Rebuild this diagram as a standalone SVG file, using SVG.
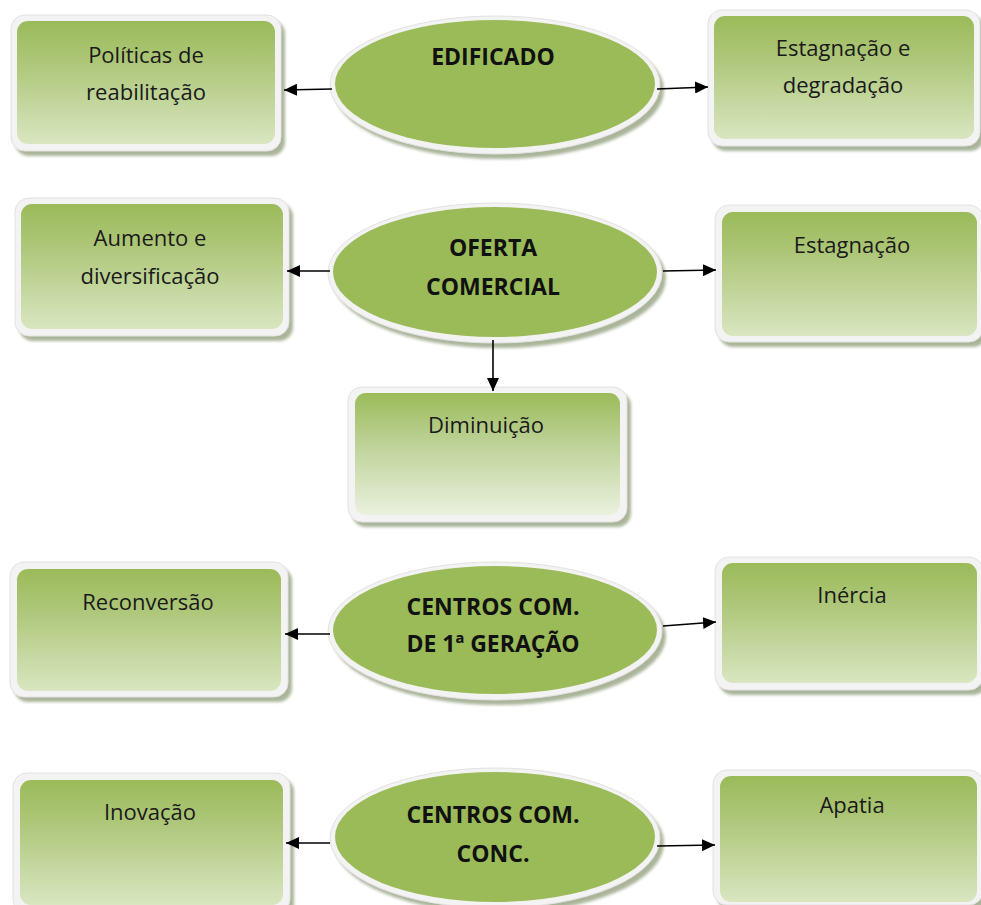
<svg xmlns="http://www.w3.org/2000/svg" width="981" height="905" viewBox="0 0 981 905">
  <defs>
    <linearGradient id="boxFill" x1="0" y1="0" x2="0" y2="1">
      <stop offset="0" stop-color="#9bbb59"/>
      <stop offset="0.35" stop-color="#aec77a"/>
      <stop offset="1" stop-color="#d9e6c1"/>
    </linearGradient>
    <linearGradient id="boxFillPale" x1="0" y1="0" x2="0" y2="1">
      <stop offset="0" stop-color="#9bbb59"/>
      <stop offset="0.4" stop-color="#bcd195"/>
      <stop offset="1" stop-color="#eaf1de"/>
    </linearGradient>
    <filter id="soft" x="-10%" y="-10%" width="120%" height="130%">
      <feGaussianBlur stdDeviation="1.5"/>
    </filter>
    <marker id="arrow" markerUnits="userSpaceOnUse" markerWidth="14" markerHeight="12" refX="13" refY="6" orient="auto">
      <path d="M0,0 L13,6 L0,12 z" fill="#000"/>
    </marker>
  </defs>
  <style>
    .shadow { fill: #8e9c78; opacity: 0.75; filter: url(#soft); }
    .frame { fill: #f3f3f3; stroke: #e2e2e2; stroke-width: 1; }
    .box { fill: url(#boxFill); }
    .oval { fill: #9bbb59; }
    .lbl { font-family: "Open Sans", "Liberation Sans", sans-serif; font-size: 22px; fill: #1a1a1a; text-anchor: middle; }
    .hd { font-family: "Open Sans", "Liberation Sans", sans-serif; font-size: 23px; font-weight: bold; fill: #111; text-anchor: middle; }
    .link { stroke: #000; stroke-width: 1.6; fill: none; marker-end: url(#arrow); }
  </style>

  <rect width="981" height="905" fill="#ffffff"/>

  <!-- Row 1: EDIFICADO -->
  <g id="politicas-reabilitacao">
    <rect class="shadow" x="15" y="20" width="270" height="136" rx="14"/>
    <rect class="frame" x="11" y="15" width="270" height="136" rx="14"/>
    <rect class="box" x="17" y="21" width="258" height="123" rx="11"/>
    <text class="lbl" x="146" y="63">Políticas de</text>
    <text class="lbl" x="146" y="100">reabilitação</text>
  </g>
  <g id="edificado">
    <ellipse class="shadow" cx="499" cy="90" rx="165" ry="69"/>
    <ellipse class="frame" cx="495" cy="85" rx="165" ry="69"/>
    <ellipse class="oval" cx="495" cy="84" rx="160" ry="64"/>
    <text class="hd" x="493" y="65">EDIFICADO</text>
  </g>
  <g id="estagnacao-degradacao">
    <rect class="shadow" x="712" y="15" width="272" height="136" rx="14"/>
    <rect class="frame" x="708" y="10" width="272" height="136" rx="14"/>
    <rect class="box" x="714" y="16" width="260" height="123" rx="11"/>
    <text class="lbl" x="843" y="56">Estagnação e</text>
    <text class="lbl" x="843" y="93">degradação</text>
  </g>

  <!-- Row 2: OFERTA COMERCIAL -->
  <g id="aumento-diversificacao">
    <rect class="shadow" x="19" y="203" width="274" height="138" rx="14"/>
    <rect class="frame" x="15" y="198" width="274" height="138" rx="14"/>
    <rect class="box" x="21" y="204" width="262" height="125" rx="11"/>
    <text class="lbl" x="150" y="246">Aumento e</text>
    <text class="lbl" x="150" y="284">diversificação</text>
  </g>
  <g id="oferta-comercial">
    <ellipse class="shadow" cx="499" cy="278" rx="167" ry="70"/>
    <ellipse class="frame" cx="495" cy="273" rx="167" ry="70"/>
    <ellipse class="oval" cx="495" cy="272" rx="162" ry="65"/>
    <text class="hd" x="493" y="256">OFERTA</text>
    <text class="hd" x="493" y="295">COMERCIAL</text>
  </g>
  <g id="estagnacao">
    <rect class="shadow" x="719" y="210" width="268" height="137" rx="14"/>
    <rect class="frame" x="715" y="205" width="268" height="137" rx="14"/>
    <rect class="box" x="722" y="212" width="255" height="124" rx="11"/>
    <text class="lbl" x="852" y="253">Estagnação</text>
  </g>
  <g id="diminuicao">
    <rect class="shadow" x="352" y="392" width="279" height="135" rx="14"/>
    <rect class="frame" x="348" y="387" width="279" height="135" rx="14"/>
    <rect x="355" y="393" width="265" height="122" rx="11" fill="url(#boxFillPale)"/>
    <text class="lbl" x="486" y="433">Diminuição</text>
  </g>

  <!-- Row 3: CENTROS COM. DE 1ª GERAÇÃO -->
  <g id="reconversao">
    <rect class="shadow" x="14" y="567" width="278" height="135" rx="14"/>
    <rect class="frame" x="10" y="562" width="278" height="135" rx="14"/>
    <rect class="box" x="17" y="569" width="264" height="122" rx="11"/>
    <text class="lbl" x="148" y="610">Reconversão</text>
  </g>
  <g id="centros-1-geracao">
    <ellipse class="shadow" cx="499" cy="636" rx="167" ry="69"/>
    <ellipse class="frame" cx="495" cy="631" rx="167" ry="69"/>
    <ellipse class="oval" cx="495" cy="630" rx="162" ry="64"/>
    <text class="hd" x="493" y="615">CENTROS COM.</text>
    <text class="hd" x="493" y="652">DE 1ª GERAÇÃO</text>
  </g>
  <g id="inercia">
    <rect class="shadow" x="719" y="562" width="268" height="133" rx="14"/>
    <rect class="frame" x="715" y="557" width="268" height="133" rx="14"/>
    <rect class="box" x="722" y="563" width="255" height="120" rx="11"/>
    <text class="lbl" x="852" y="603">Inércia</text>
  </g>

  <!-- Row 4: CENTROS COM. CONC. -->
  <g id="inovacao">
    <rect class="shadow" x="17" y="778" width="277" height="140" rx="14"/>
    <rect class="frame" x="13" y="773" width="277" height="140" rx="14"/>
    <rect class="box" x="20" y="780" width="263" height="125" rx="11"/>
    <text class="lbl" x="150" y="820">Inovação</text>
  </g>
  <g id="centros-conc">
    <ellipse class="shadow" cx="499" cy="843" rx="165" ry="70"/>
    <ellipse class="frame" cx="495" cy="838" rx="165" ry="70"/>
    <ellipse class="oval" cx="495" cy="837" rx="160" ry="65"/>
    <text class="hd" x="493" y="823">CENTROS COM.</text>
    <text class="hd" x="493" y="862">CONC.</text>
  </g>
  <g id="apatia">
    <rect class="shadow" x="717" y="775" width="270" height="135" rx="14"/>
    <rect class="frame" x="713" y="770" width="270" height="135" rx="14"/>
    <rect class="box" x="720" y="776" width="257" height="126" rx="11"/>
    <text class="lbl" x="852" y="813">Apatia</text>
  </g>

  <!-- Connectors -->
  <g id="connectors">
    <line class="link" x1="332" y1="89" x2="284" y2="90"/>
    <line class="link" x1="657" y1="89" x2="708" y2="87"/>
    <line class="link" x1="330" y1="271" x2="287" y2="271"/>
    <line class="link" x1="663" y1="271" x2="716" y2="270"/>
    <line class="link" x1="493" y1="340" x2="493" y2="391"/>
    <line class="link" x1="330" y1="634" x2="285" y2="634"/>
    <line class="link" x1="663" y1="626" x2="716" y2="622"/>
    <line class="link" x1="330" y1="843" x2="286" y2="843"/>
    <line class="link" x1="657" y1="846" x2="715" y2="845"/>
  </g>
</svg>
